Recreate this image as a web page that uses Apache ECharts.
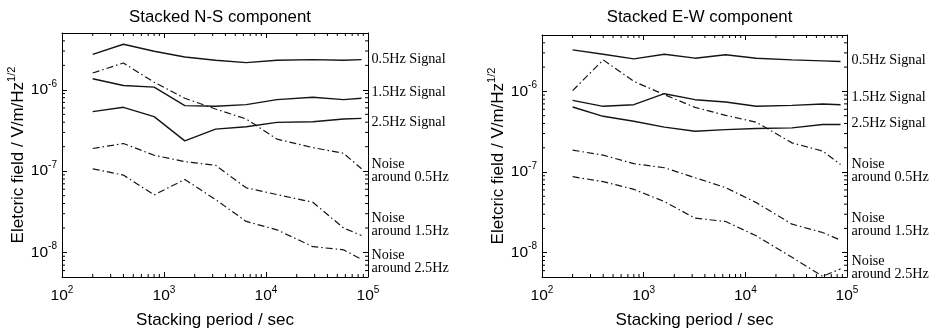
<!DOCTYPE html>
<html><head><meta charset="utf-8">
<script src="https://cdn.jsdelivr.net/npm/echarts@6/dist/echarts.min.js"></script>
<style>html,body{margin:0;padding:0;background:#fff}#c{width:937px;height:334px}</style>
</head><body><div id="c"></div>
<script>
// ---- data ----
const periods = [200, 400, 800, 1600, 3200, 6400, 12800, 28800, 57600, 86400];
const seriesNames = ['0.5Hz Signal', '1.5Hz Signal', '2.5Hz Signal', 'Noise\naround 0.5Hz', 'Noise\naround 1.5Hz', 'Noise\naround 2.5Hz'];
const chartTitles = ['Stacked N-S component', 'Stacked E-W component'];
const xTicks = [1e2, 1e3, 1e4, 1e5];
const yTicks = [1e-8, 1e-7, 1e-6];
const xMinorTicks = [200, 300, 400, 500, 600, 700, 800, 900,
  2000, 3000, 4000, 5000, 6000, 7000, 8000, 9000,
  20000, 30000, 40000, 50000, 60000, 70000, 80000, 90000];
const yMinorTicks = [6e-9, 7e-9, 8e-9, 9e-9,
  2e-8, 3e-8, 4e-8, 5e-8, 6e-8, 7e-8, 8e-8, 9e-8,
  2e-7, 3e-7, 4e-7, 5e-7, 6e-7, 7e-7, 8e-7, 9e-7,
  2e-6, 3e-6, 4e-6];

const nsSignal05 = [2.73e-6, 3.64e-6, 2.98e-6, 2.53e-6, 2.31e-6, 2.16e-6, 2.31e-6, 2.35e-6, 2.31e-6, 2.35e-6];
const nsSignal15 = [1.37e-6, 1.13e-6, 1.08e-6, 6.4e-7, 6.28e-7, 6.58e-7, 7.59e-7, 8.11e-7, 7.59e-7, 7.88e-7];
const nsSignal25 = [5.39e-7, 6.1e-7, 4.68e-7, 2.36e-7, 3.29e-7, 3.52e-7, 3.98e-7, 4.06e-7, 4.38e-7, 4.46e-7];
const nsNoise05 = [1.61e-6, 2.14e-6, 1.24e-6, 7.88e-7, 5.82e-7, 4.38e-7, 2.48e-7, 1.95e-7, 1.66e-7, 1.07e-7];
const nsNoise15 = [1.9e-7, 2.19e-7, 1.57e-7, 1.31e-7, 1.18e-7, 6.24e-8, 5.16e-8, 4.15e-8, 2.0e-8, 1.62e-8];
const nsNoise25 = [1.07e-7, 8.95e-8, 5.11e-8, 7.91e-8, 4.48e-8, 2.41e-8, 1.9e-8, 1.18e-8, 1.08e-8, 8.26e-9];

const ewSignal05 = [3.27e-6, 2.89e-6, 2.53e-6, 2.89e-6, 2.58e-6, 2.84e-6, 2.58e-6, 2.46e-6, 2.39e-6, 2.35e-6];
const ewSignal15 = [7.74e-7, 6.53e-7, 6.84e-7, 9.36e-7, 7.89e-7, 7.38e-7, 6.53e-7, 6.71e-7, 6.98e-7, 6.84e-7];
const ewSignal25 = [6.41e-7, 4.91e-7, 4.26e-7, 3.6e-7, 3.21e-7, 3.36e-7, 3.46e-7, 3.53e-7, 3.88e-7, 3.88e-7];
const ewNoise05 = [1.02e-6, 2.46e-6, 1.33e-6, 9.1e-7, 6.34e-7, 5.05e-7, 4.14e-7, 2.3e-7, 1.82e-7, 1.24e-7];
const ewNoise15 = [1.87e-7, 1.62e-7, 1.27e-7, 1.13e-7, 8.51e-8, 6.41e-8, 4.18e-8, 2.26e-8, 1.78e-8, 1.43e-8];
const ewNoise25 = [8.76e-8, 7.6e-8, 6.11e-8, 4.3e-8, 2.68e-8, 2.44e-8, 1.62e-8, 8.76e-9, 5.1e-9, 6.3e-9];

// ---- styles / layout ----
const X_RANGE = [1e2, 1e5], Y_RANGE = [5e-9, 5e-6];
const panels = [
  { grid: { left: 62, top: 33, width: 306, height: 244 },
    series: [nsSignal05, nsSignal15, nsSignal25, nsNoise05, nsNoise15, nsNoise25],
    labelOffsets: [[10, 0], [10, -6], [10, 4], [10, 2], [10, -10.5], [10, 2.5]] },
  { grid: { left: 542, top: 35, width: 305, height: 243 },
    series: [ewSignal05, ewSignal15, ewSignal25, ewNoise05, ewNoise15, ewNoise25],
    labelOffsets: [[11, -1.5], [11, -7.5], [11, -1], [11, 6], [11, -15.5], [11, -1]] }
];
const dashDot = [7, 3, 1.5, 3];
const ink = '#151515';
const sans = 'Liberation Sans, Arial, sans-serif';
const serif = 'Liberation Serif, Times New Roman, serif';

function sup(v) {
  const e = Math.round(Math.log10(v));
  return '{b|10}{s|' + e + '}';
}
const richSup = {
  b: { fontSize: 15.5, fontFamily: sans, color: '#000', lineHeight: 22 },
  s: { fontSize: 10, fontFamily: sans, color: '#000', lineHeight: 10, verticalAlign: 'top' }
};
function isTick(v, list) {
  return list.some(t => Math.abs(Math.log10(v) - Math.log10(t)) < 1e-6);
}

const minorData = xMinorTicks.map(v => [v, 0]).concat(yMinorTicks.map(v => [v, 1]));

const grids = [], xAxes = [], yAxes = [], series = [], titles = [];
panels.forEach((p, gi) => {
  grids.push(p.grid);
  titles.push({
    text: chartTitles[gi],
    left: p.grid.left + p.grid.width / 2, top: 4, textAlign: 'center',
    textStyle: { fontFamily: sans, fontSize: 16.8, fontWeight: 'normal', color: '#000' }
  });
  const common = {
    gridIndex: gi, type: 'log', logBase: 10,
    axisLine: { show: true, lineStyle: { color: '#000', width: 1 } },
    axisTick: { show: true, inside: true, length: 5, lineStyle: { color: '#000', width: 1 } },
    minorTick: { show: false },
    splitLine: { show: false }, minorSplitLine: { show: false }
  };
  xAxes.push(Object.assign({}, common, {
    position: 'bottom', min: X_RANGE[0], max: X_RANGE[1],
    name: 'Stacking period / sec', nameLocation: 'middle', nameGap: 35,
    nameTextStyle: { fontFamily: sans, fontSize: 17, color: '#000' },
    axisLabel: { margin: 8, formatter: v => isTick(v, xTicks) ? sup(v) : '', rich: richSup }
  }));
  xAxes.push(Object.assign({}, common, {
    position: 'top', min: X_RANGE[0], max: X_RANGE[1], axisLabel: { show: false }
  }));
  yAxes.push(Object.assign({}, common, {
    position: 'left', min: Y_RANGE[0], max: Y_RANGE[1],
    name: '{a|Eletcric field / V/m/Hz}{s|1/2}', nameLocation: 'middle', nameGap: 32, nameRotate: 90,
    nameTextStyle: { rich: {
      a: { fontFamily: sans, fontSize: 17, color: '#000', lineHeight: 24 },
      s: { fontFamily: sans, fontSize: 11, color: '#000', lineHeight: 12, verticalAlign: 'top' } } },
    axisLabel: { margin: 5, showMinLabel: false, showMaxLabel: false,
      formatter: v => isTick(v, yTicks) ? sup(v) : '', rich: richSup }
  }));
  yAxes.push(Object.assign({}, common, {
    position: 'right', min: Y_RANGE[0], max: Y_RANGE[1], axisLabel: { show: false }
  }));
  p.series.forEach((vals, si) => {
    series.push({
      type: 'line', name: seriesNames[si],
      xAxisIndex: gi * 2, yAxisIndex: gi * 2,
      data: periods.map((x, i) => [x, vals[i]]),
      showSymbol: false, symbol: 'none', clip: true,
      lineStyle: { color: ink, width: si < 3 ? 1.4 : 1.2, type: si < 3 ? 'solid' : dashDot },
      endLabel: {
        show: true, formatter: seriesNames[si], distance: 0, offset: p.labelOffsets[si],
        fontFamily: serif, fontSize: 14.2, lineHeight: 13, color: '#000', align: 'left', verticalAlign: 'middle'
      },
      emphasis: { disabled: true }, silent: true
    });
  });
  series.push({
    type: 'custom', xAxisIndex: gi * 2, yAxisIndex: gi * 2,
    data: minorData.map(d => d[1] === 0 ? [d[0], 0, 1e-7] : [d[0], 1, 1e3]),
    encode: { x: 0, y: 2 },
    renderItem: function (params, api) {
      const v = api.value(0), kind = api.value(1);
      const L = 3, st = { stroke: '#000', lineWidth: 1 };
      if (kind === 0) {
        const b = api.coord([v, Y_RANGE[0]]), t = api.coord([v, Y_RANGE[1]]);
        return { type: 'group', children: [
          { type: 'line', shape: { x1: b[0], y1: b[1], x2: b[0], y2: b[1] - L }, style: st },
          { type: 'line', shape: { x1: t[0], y1: t[1], x2: t[0], y2: t[1] + L }, style: st }] };
      }
      const l = api.coord([X_RANGE[0], v]), r = api.coord([X_RANGE[1], v]);
      return { type: 'group', children: [
        { type: 'line', shape: { x1: l[0], y1: l[1], x2: l[0] + L, y2: l[1] }, style: st },
        { type: 'line', shape: { x1: r[0], y1: r[1], x2: r[0] - L, y2: r[1] }, style: st }] };
    },
    clip: false, silent: true, z: 5
  });
});

const chart = echarts.init(document.getElementById('c'), null, { renderer: 'canvas' });
chart.setOption({
  animation: false, backgroundColor: '#fff',
  title: titles, grid: grids, xAxis: xAxes, yAxis: yAxes, series: series
});
</script></body></html>
